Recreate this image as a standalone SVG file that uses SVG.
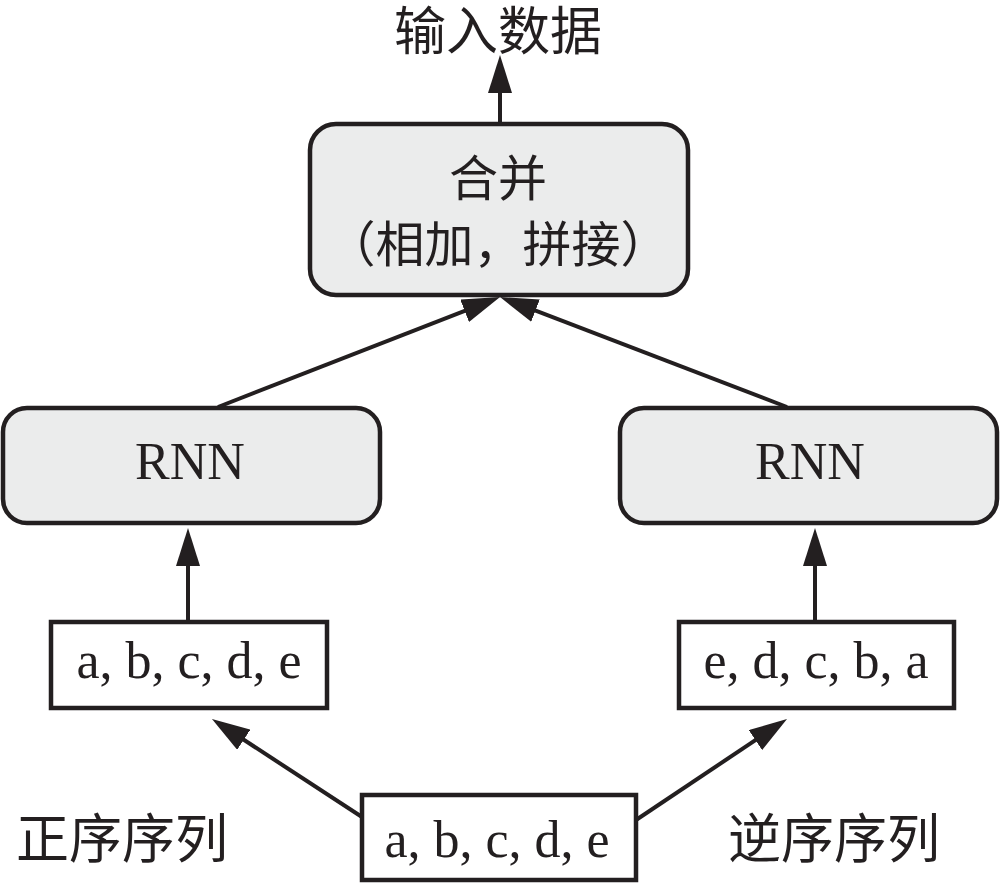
<svg xmlns="http://www.w3.org/2000/svg" width="1000" height="883" viewBox="0 0 1000 883">
<defs>
<marker id="arr" viewBox="0 0 38 24" refX="18" refY="12" markerWidth="38" markerHeight="24" markerUnits="userSpaceOnUse" orient="auto">
<path d="M0,0 L38,12 L0,24 Z" fill="#231f20"/>
</marker>
<style>
.rbox{fill:#ebecec;stroke:#231f20;stroke-width:4.5}
.sbox{fill:#fff;stroke:#231f20;stroke-width:4.5}
.lat{font-family:"Liberation Serif","Times New Roman",serif;font-size:52px;fill:#231f20;text-anchor:middle}
.cjk{font-family:"Noto Sans CJK SC","Noto Sans",sans-serif;font-size:49px;fill:#231f20}
.con{stroke:#231f20;stroke-width:4;fill:none;marker-end:url(#arr)}
</style>
</defs>
<rect width="1000" height="883" fill="#fff"/>
<g id="connectors">
<line class="con" x1="500" y1="123" x2="500" y2="75"/>
<line class="con" x1="218" y1="407" x2="481.4" y2="304.3"/>
<line class="con" x1="787" y1="407" x2="518.7" y2="304.2"/>
<line class="con" x1="188" y1="622" x2="188" y2="548"/>
<line class="con" x1="815" y1="622" x2="815" y2="548"/>
<line class="con" x1="362" y1="817" x2="228.7" y2="729.9"/>
<line class="con" x1="636" y1="820" x2="770.4" y2="730.1"/>
</g>
<g id="title">
<text class="cjk" x="498" y="50" text-anchor="middle" style="font-size:52px">输入数据</text>
</g>
<g id="merge">
<rect class="rbox" x="310" y="124" width="378" height="171" rx="26"/>
<text class="cjk" x="498" y="196" text-anchor="middle">合并</text>
<text class="cjk" x="498" y="262" text-anchor="middle">（相加，拼接）</text>
</g>
<g id="rnn-left">
<rect class="rbox" x="3" y="408" width="377" height="115" rx="24"/>
<text class="lat" x="190" y="479">RNN</text>
</g>
<g id="rnn-right">
<rect class="rbox" x="620" y="408" width="377" height="115" rx="24"/>
<text class="lat" x="810" y="479">RNN</text>
</g>
<g id="seq-left">
<rect class="sbox" x="51" y="622" width="276" height="86"/>
<text class="lat" x="189" y="678">a, b, c, d, e</text>
</g>
<g id="seq-right">
<rect class="sbox" x="679" y="622" width="275" height="86"/>
<text class="lat" x="816" y="678">e, d, c, b, a</text>
</g>
<g id="seq-input">
<rect class="sbox" x="362" y="795" width="274" height="85"/>
<text class="lat" x="497" y="857">a, b, c, d, e</text>
</g>
<g id="label-forward">
<text class="cjk" x="16" y="858" style="font-size:53px">正序序列</text>
</g>
<g id="label-reverse">
<text class="cjk" x="728" y="858" style="font-size:53px">逆序序列</text>
</g>
</svg>
